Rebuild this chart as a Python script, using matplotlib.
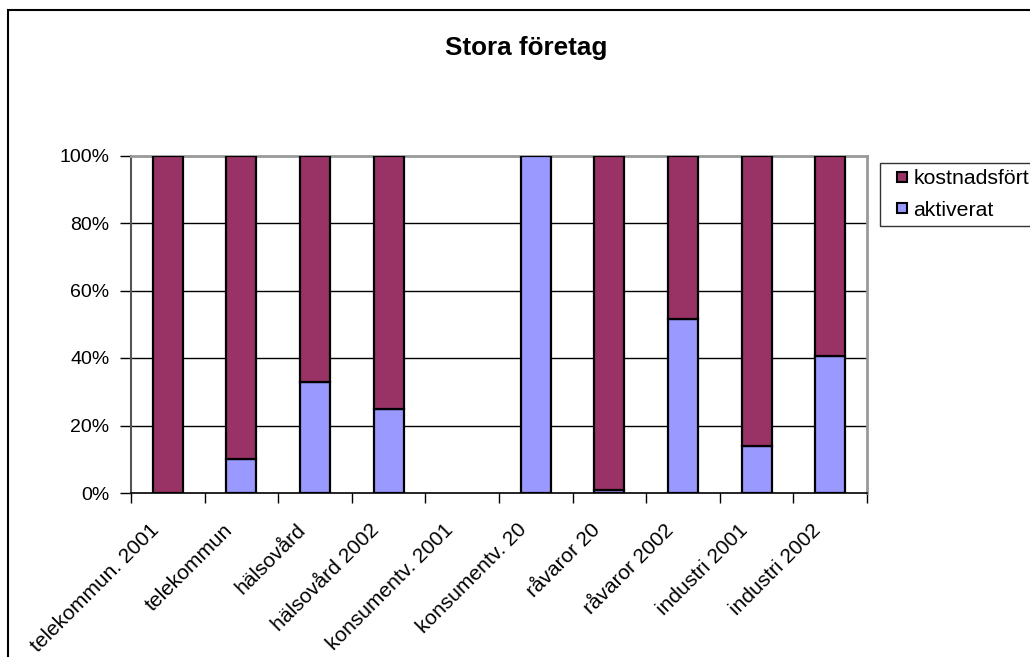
import matplotlib
matplotlib.use("Agg")
import matplotlib.pyplot as plt
from matplotlib.patches import Rectangle
from matplotlib.lines import Line2D
import matplotlib.transforms as mtransforms
import numpy as np

plt.rcParams['font.family'] = ['Liberation Sans', 'DejaVu Sans']

categories = ["telekommun. 2001", "telekommun", "hälsovård", "hälsovård 2002",
              "konsumentv. 2001", "konsumentv. 20", "råvaror 20", "råvaror 2002",
              "industri 2001", "industri 2002"]
aktiverat = [0, 10, 33, 25, 0, 100, 1, 51.5, 14, 40.5]
kostnadsfort = [100, 90, 67, 75, 0, 0, 99, 48.5, 86, 59.5]
yticks = [0, 20, 40, 60, 80, 100]
ytick_labels = ["0%", "20%", "40%", "60%", "80%", "100%"]

W, H = 1030, 657
fig = plt.figure(figsize=(W / 100, H / 100), dpi=100)
left, right, top, bottom = 131, 867, 155.5, 493
ax = fig.add_axes([left / W, 1 - bottom / H, (right - left) / W, (bottom - top) / H])

x = np.arange(len(categories))
c_akt = "#9999FF"
c_kost = "#993366"
bw = 0.41
lw_akt = [1.6 if v > 0 else 0 for v in aktiverat]
lw_kost = [1.6 if v > 0 else 0 for v in kostnadsfort]
ax.bar(x, aktiverat, bw, color=c_akt, edgecolor="black", linewidth=lw_akt, zorder=3)
ax.bar(x, kostnadsfort, bw, bottom=aktiverat, color=c_kost, edgecolor="black",
       linewidth=lw_kost, zorder=3)

ax.set_xlim(-0.5, len(categories) - 0.5)
ax.set_ylim(0, 100)
for g in [20, 40, 60, 80]:
    ax.axhline(g, color="black", linewidth=1, zorder=1)

ax.set_yticks(yticks)
ax.set_yticklabels(ytick_labels, fontsize=14)
ax.tick_params(axis="y", direction="out", length=8, width=1, pad=7.5, color="black")

ax.set_xticks(x)
ax.set_xticklabels([])
ax.tick_params(axis="x", which="major", length=0)
ax.set_xticks(np.arange(-0.5, len(categories), 1), minor=True)
ax.tick_params(axis="x", which="minor", direction="out", length=7, width=1, color="black")

offset = mtransforms.ScaledTranslation(-12 / 100, -34 / 100, fig.dpi_scale_trans)
trans = ax.get_xaxis_transform() + offset
for xi, lab in zip(x, categories):
    ax.text(xi, 0, lab, transform=trans, rotation=45, ha="right", va="center",
            rotation_mode="anchor", fontsize=15, clip_on=False)

ax.spines["left"].set_color("#555555")
ax.spines["left"].set_linewidth(1.5)
ax.spines["bottom"].set_color("black")
ax.spines["bottom"].set_linewidth(1.2)
ax.spines["top"].set_color("#999999")
ax.spines["top"].set_linewidth(2)
ax.spines["right"].set_color("#999999")
ax.spines["right"].set_linewidth(2)

fig.text(526 / W, 1 - 48 / H, "Stora företag", ha="center", va="center",
         fontsize=18.8, fontweight="bold")

handles = [Line2D([], [], linestyle="none", marker="s", markersize=7.5,
                  markerfacecolor=c_kost, markeredgecolor="black", markeredgewidth=1.5),
           Line2D([], [], linestyle="none", marker="s", markersize=7.5,
                  markerfacecolor=c_akt, markeredgecolor="black", markeredgewidth=1.5)]
leg = fig.legend(handles, ["kostnadsfört", "aktiverat"], loc="upper left",
                 bbox_to_anchor=(880 / W, 1 - 163 / H), frameon=True, fancybox=False,
                 edgecolor="black", fontsize=15.3, handlelength=1.47,
                 handletextpad=-0.2, borderpad=0.3, labelspacing=0.58, borderaxespad=0)
leg.get_frame().set_linewidth(1)

fig.add_artist(Rectangle((8 / W, -0.1), 1.2, (H - 10) / H + 0.1, transform=fig.transFigure,
                         fill=False, edgecolor="black", linewidth=1.5, clip_on=False))

fig.savefig("out.png", dpi=100)
